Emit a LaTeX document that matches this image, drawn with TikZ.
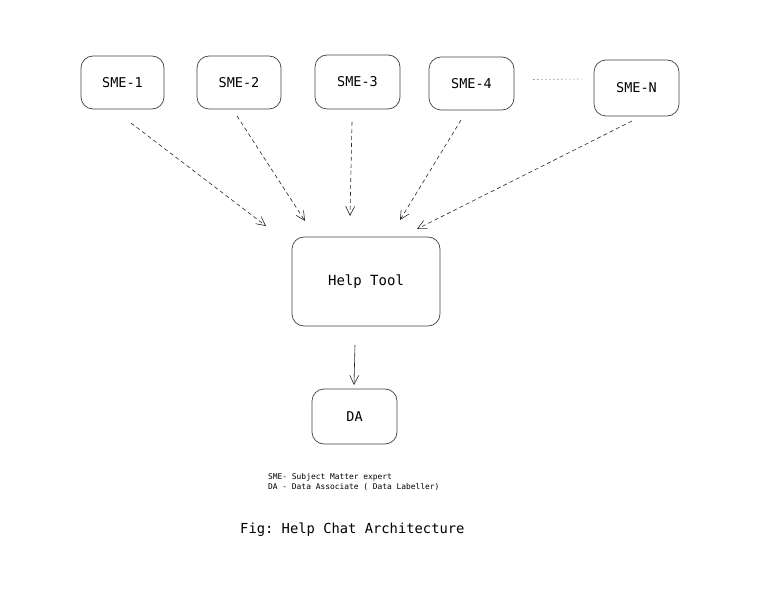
\documentclass[tikz,border=0pt]{standalone}
\usepackage{fontspec}
\setmonofont{DejaVu Sans Mono}
\usetikzlibrary{arrows.meta,calc}
\begin{document}
\begin{tikzpicture}[x=1bp,y=-1bp,
  box/.style={draw=black!75,line width=0.7bp,rounded corners=12bp,inner sep=0pt,font=\ttfamily\fontsize{13.5bp}{16bp}\selectfont},
  conn/.style={draw=black!85,line width=0.6bp,dash pattern=on 4bp off 3bp,-{Straight Barb[length=9bp,width=9bp]}},
  solidconn/.style={draw=black!85,line width=0.6bp,-{Straight Barb[length=9bp,width=9bp]}}]
\path[use as bounding box] (0,0) rectangle (763,594);
\node[box,minimum width=83bp,minimum height=53bp] (s1) at (122.5,82.5) {SME-1};
\node[box,minimum width=84bp,minimum height=53bp] (s2) at (239,82.5) {SME-2};
\node[box,minimum width=85bp,minimum height=54bp] (s3) at (357.5,82) {SME-3};
\node[box,minimum width=85bp,minimum height=53bp] (s4) at (471.5,83.5) {SME-4};
\node[box,minimum width=85bp,minimum height=56bp] (sn) at (636.5,88) {SME-N};
\node[box,minimum width=148bp,minimum height=89bp,font=\ttfamily\fontsize{14bp}{16bp}\selectfont] (ht) at (366,281.5) {Help Tool};
\node[box,minimum width=85bp,minimum height=55bp] (da) at (354.5,416.5) {DA};
\coordinate (d1) at ($(s4.east)+(19,-4)$);
\coordinate (d2) at ($(sn.west)+(-12,-9)$);
\draw[black!70,line width=0.6bp,dash pattern=on 1bp off 3bp] (d1) -- (d2);
\coordinate (a1s) at (131,123); \coordinate (a1e) at (266,226);
\coordinate (a2s) at (237,116); \coordinate (a2e) at (305,221);
\coordinate (a3s) at (352,122); \coordinate (a3e) at (350,216);
\coordinate (a4s) at (461,120); \coordinate (a4e) at (400,220);
\coordinate (a5s) at (632,121); \coordinate (a5e) at (417,229);
\coordinate (a6s) at (355,345); \coordinate (a6e) at (354,385);
\draw[conn] (a1s) -- (a1e);
\draw[conn] (a2s) -- (a2e);
\draw[conn] (a3s) -- (a3e);
\draw[conn] (a4s) -- (a4e);
\draw[conn] (a5s) -- (a5e);
\draw[solidconn] (a6s) -- (a6e);
\node[anchor=north west,align=left,inner sep=0pt,font=\ttfamily\fontsize{7.9bp}{10bp}\selectfont] (note) at (268,473) {SME- Subject Matter expert\\DA - Data Associate ( Data Labeller)};
\node[anchor=west,inner sep=0pt,font=\ttfamily\fontsize{13.8bp}{16bp}\selectfont] (cap) at (240,530) {Fig: Help Chat Architecture};
\end{tikzpicture}
\end{document}
